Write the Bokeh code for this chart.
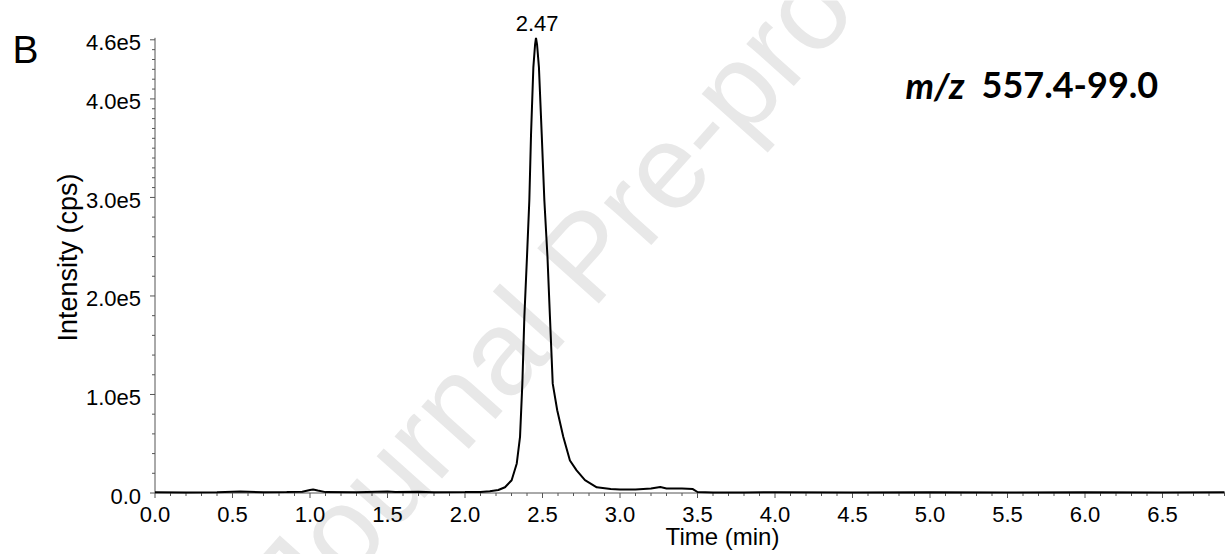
import math
from bokeh.plotting import figure
from bokeh.models import Range1d
from bokeh.core.properties import value
from bokeh.embed import file_html
from bokeh.resources import INLINE

# ---- data ----
time_min = [0.00, 0.20, 0.40, 0.55, 0.70, 0.85, 0.95, 1.00, 1.02, 1.05, 1.10, 1.30,
            1.50, 1.55, 1.70, 1.80, 2.00, 2.10, 2.16, 2.215, 2.258, 2.301, 2.334,
            2.355, 2.370, 2.383, 2.400, 2.415, 2.426, 2.441, 2.452, 2.458, 2.465,
            2.477, 2.495, 2.512, 2.532, 2.548, 2.566, 2.595, 2.634, 2.677, 2.720,
            2.774, 2.850, 2.940, 3.000, 3.100, 3.200, 3.260, 3.300, 3.400, 3.470,
            3.500, 3.600, 3.800, 4.000, 4.500, 5.000, 5.500, 6.000, 6.500, 6.900]
intensity_cps = [800, 600, 700, 1500, 800, 900, 1200, 3000, 3500, 2500, 900, 800,
                 1500, 900, 1200, 800, 900, 1000, 1800, 3000, 5800, 13000, 30000,
                 57000, 111000, 179000, 240000, 297000, 364000, 432000, 455000, 462000, 455000,
                 432000, 364000, 297000, 240000, 179000, 111000, 84000, 57000, 33000, 23000,
                 13000, 5800, 4000, 3500, 3500, 4500, 6000, 4500, 4500, 4000,
                 1000, 500, 600, 700, 600, 700, 600, 700, 600, 700]

x_ticks = [0.0, 0.5, 1.0, 1.5, 2.0, 2.5, 3.0, 3.5, 4.0, 4.5, 5.0, 5.5, 6.0, 6.5]
x_tick_labels = ["0.0", "0.5", "1.0", "1.5", "2.0", "2.5", "3.0", "3.5", "4.0",
                 "4.5", "5.0", "5.5", "6.0", "6.5"]
y_ticks = [0, 100000, 200000, 300000, 400000, 460000]
y_tick_labels = ["0.0", "1.0e5", "2.0e5", "3.0e5", "4.0e5", "4.6e5"]

peak_time = 2.465
peak_height = 462000
peak_label = "2.47"
panel_letter = "B"
transition_italic = "m/z"
transition_text = "557.4-99.0"
x_title = "Time (min)"
y_title = "Intensity (cps)"
watermark = "Journal Pre-proof"

# ---- geometry (pixels) ----
W, H = 1225, 554
X0_PX = 154.5            # x pixel of t = 0
Y0_PX = 492.5            # y pixel of intensity = 0
PX_PER_MIN = 155.0
PX_PER_CPS = 453.2 / 460000.0
Y_AXIS_TOP = 462000


def dx(px):
    return px / PX_PER_MIN


def dy(px):
    return px / PX_PER_CPS


def X(px):  # absolute page x pixel -> data
    return (px - X0_PX) / PX_PER_MIN


def Y(py):  # absolute page y pixel -> data
    return (Y0_PX - py) / PX_PER_CPS


p = figure(width=W, height=H, output_backend="svg", toolbar_location=None,
           x_axis_location=None, y_axis_location=None,
           x_range=Range1d(X(0), X(W)), y_range=Range1d(Y(H), Y(0)),
           min_border=0)
p.min_border_left = p.min_border_right = p.min_border_top = p.min_border_bottom = 0
p.outline_line_color = None
p.grid.visible = False
p.background_fill_color = "white"

FONT = value("Liberation Sans")

# watermark
p.text(x=[X(585)], y=[Y(255)], text=[watermark], angle=0.84,
       text_align="center", text_baseline="middle", text_font=FONT,
       text_font_size="120px", text_color="#e8e8e8")

AX = "#555555"
x_end = X(W)
# axis lines
p.segment(x0=[0, 0], y0=[0, 0], x1=[x_end, 0], y1=[0, Y_AXIS_TOP],
          line_color=AX, line_width=1)

# ticks
x_minor = [round(i * 0.1, 2) for i in range(0, 70) if round(i * 0.1, 2) not in x_ticks]
y_minor = [i * 20000 for i in range(0, 15)] + [300000 + i * 10000 for i in range(1, 17)]
y_minor = [v for v in y_minor if v not in y_ticks]

p.segment(x0=x_ticks, y0=[0] * len(x_ticks), x1=x_ticks, y1=[-dy(5)] * len(x_ticks),
          line_color=AX, line_width=1)
p.segment(x0=x_minor, y0=[0] * len(x_minor), x1=x_minor, y1=[-dy(3)] * len(x_minor),
          line_color=AX, line_width=1)
p.segment(x0=[0] * len(y_ticks), y0=y_ticks, x1=[-dx(5)] * len(y_ticks), y1=y_ticks,
          line_color=AX, line_width=1)
p.segment(x0=[0] * len(y_minor), y0=y_minor, x1=[-dx(3)] * len(y_minor), y1=y_minor,
          line_color=AX, line_width=1)

# tick labels (all texts are placed by their visual centre)
p.text(x=x_ticks, y=[Y(514)] * len(x_ticks), text=x_tick_labels,
       text_align="center", text_baseline="middle", text_font=FONT,
       text_font_size="22px", text_color="black")
p.text(x=[-dx(14)] * len(y_ticks), y=[v - dy(3) for v in y_ticks], text=y_tick_labels,
       text_align="right", text_baseline="middle", text_font=FONT,
       text_font_size="22px", text_color="black")

# axis titles
p.text(x=[X(722)], y=[Y(535.5)], text=[x_title], text_align="center",
       text_baseline="middle", text_font=FONT, text_font_size="24px",
       text_color="black")
p.text(x=[X(67)], y=[Y(257)], text=[y_title], angle=math.pi / 2,
       text_align="center", text_baseline="middle", text_font=FONT,
       text_font_size="27px", text_color="black")

# chromatogram
p.line(time_min, intensity_cps, line_color="black", line_width=2)

# peak annotation
p.text(x=[peak_time], y=[Y(23.4)], text=[peak_label],
       text_align="center", text_baseline="middle", text_font=FONT,
       text_font_size="22px", text_color="black")

# panel letter
p.text(x=[X(12)], y=[Y(49)], text=[panel_letter], text_align="left",
       text_baseline="middle", text_font=FONT, text_font_size="39px",
       text_color="black")

# transition label
p.text(x=[X(905)], y=[Y(84.5)], text=[transition_italic], text_align="left",
       text_baseline="middle", text_font=value("Lato"), text_font_size="36px",
       text_font_style="bold italic", text_color="black")
p.text(x=[X(981)], y=[Y(84.5)], text=[transition_text], text_align="left",
       text_baseline="middle", text_font=value("Lato"), text_font_size="36px",
       text_font_style="bold", text_color="black")

open("out.html", "w").write(file_html(p, INLINE))
